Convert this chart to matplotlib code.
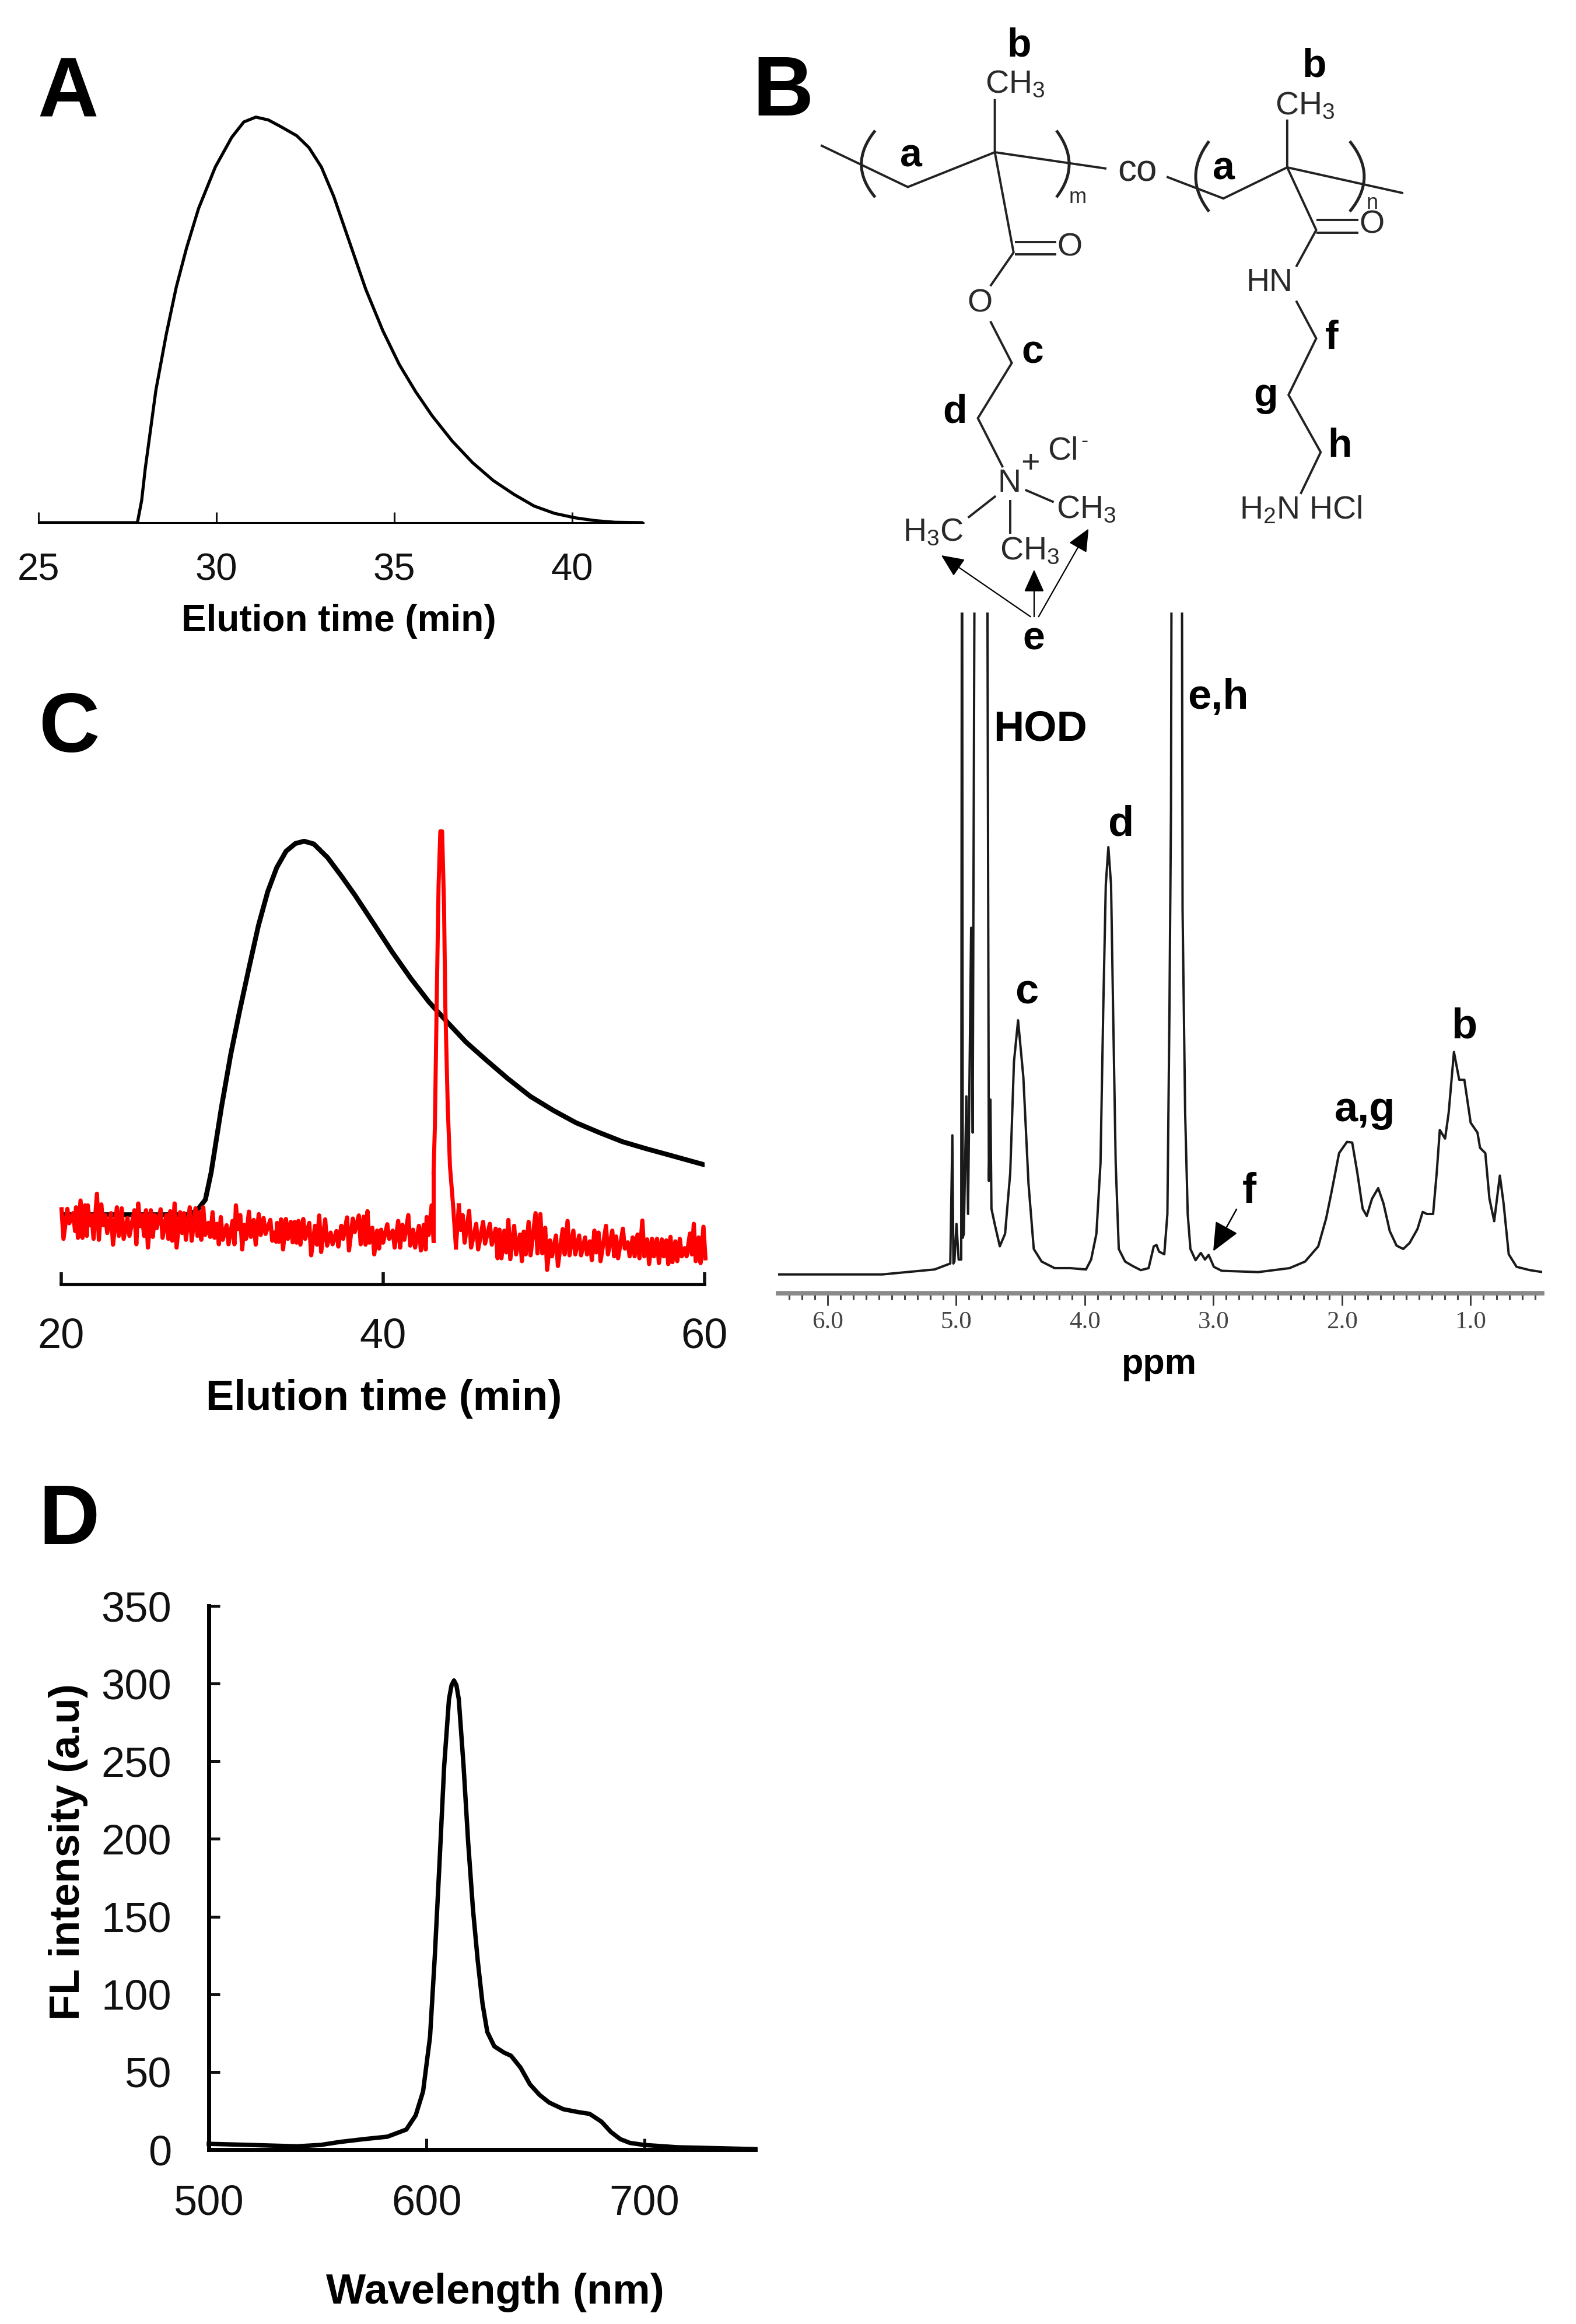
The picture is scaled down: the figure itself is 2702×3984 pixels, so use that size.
import numpy as np
import matplotlib
matplotlib.use('Agg')
import matplotlib.pyplot as plt
from matplotlib.path import Path
from matplotlib.patches import PathPatch

plt.rcParams['font.family'] = ['Liberation Sans', 'DejaVu Sans']
plt.rcParams['mathtext.default'] = 'regular'

# Panel A: elution profile
a_time = [25.0, 27.78, 27.9, 28.0, 28.3, 28.59, 28.87, 29.16, 29.5, 29.97, 30.43, 30.77, 31.11, 31.46, 31.8,
          32.26, 32.6, 32.95, 33.3, 33.76, 34.2, 34.68, 35.14, 35.6, 36.06, 36.63, 37.2, 37.78, 38.36, 38.93,
          39.5, 40.08, 40.65, 41.2, 42.0]
a_signal = [0, 0, 5.5, 13.3, 32.7, 46.4, 58.0, 67.7, 77.5, 87.7, 95.0, 98.8, 100.0, 99.3, 97.7,
            95.4, 92.5, 87.7, 80.4, 68.7, 57.5, 47.3, 39.0, 32.3, 26.4, 20.1, 14.8, 10.4, 7.0, 4.1,
            2.3, 1.2, 0.5, 0.1, 0]
a_ticks = [25, 30, 35, 40]

# Panel C: black trace
c_time = [20.0, 28.0, 28.47, 28.96, 29.32, 29.97, 30.54, 31.1, 31.7, 32.26, 32.84, 33.4, 33.98, 34.56, 35.1,
          35.7, 36.56, 37.4, 38.28, 39.43, 40.57, 41.72, 42.87, 44.0, 45.16, 46.3, 47.74, 49.17, 50.6, 52.0,
          53.47, 54.9, 56.33, 57.77, 60.0]
c_black = [15.4, 15.4, 16.5, 18.7, 24.7, 39.3, 50.8, 60.5, 70.3, 79.2, 86.7, 92.0, 95.6, 97.3, 97.8,
           97.2, 94.2, 90.2, 85.8, 79.6, 73.4, 67.6, 62.3, 57.9, 53.5, 49.9, 45.5, 41.5, 38.4, 35.7,
           33.5, 31.5, 30.0, 28.6, 26.4]

# Panel C: red trace, noisy baseline read as highs and lows either side of the peak
red_t_left = [20.02, 20.38, 20.74, 20.92, 21.20, 21.47, 21.65, 21.89, 22.22, 22.49, 22.74, 23.10, 23.46, 23.76,
              24.12, 24.55, 24.79, 25.03, 25.27, 25.57, 25.82, 26.18, 26.54, 26.78, 27.05, 27.39, 27.63, 27.99,
              28.35, 28.59, 28.83, 29.14, 29.41, 29.68, 29.92, 30.28, 30.65, 30.86, 31.13, 31.37, 31.67, 31.97,
              32.28, 32.58, 33.00, 33.24, 33.42, 33.67, 33.97, 34.27, 34.51, 34.75, 35.05, 35.42, 35.78, 36.04,
              36.41, 36.75, 37.11, 37.41, 37.77, 38.13, 38.50, 38.80, 39.04, 39.34, 39.64, 39.89, 40.27, 40.61,
              40.95, 41.21, 41.58, 41.88, 42.24, 42.54, 42.72, 43.03]
red_hi_left = [16.60, 16.68, 15.74, 17.03, 18.53, 17.46, 17.46, 15.31, 20.03, 17.67, 15.31, 15.74, 17.03, 16.81,
               14.67, 16.38, 17.88, 15.31, 16.38, 16.38, 15.31, 16.60, 15.31, 16.17, 17.88, 15.95, 15.74, 17.03,
               16.81, 15.95, 17.03, 13.59, 15.95, 13.38, 14.88, 13.08, 14.02, 17.46, 15.31, 13.17, 16.08, 14.24,
               15.53, 14.67, 14.24, 11.45, 13.59, 14.37, 14.45, 13.81, 13.81, 14.02, 14.45, 13.59, 12.95, 15.23,
               14.37, 11.45, 11.79, 12.95, 14.80, 14.54, 15.23, 14.97, 16.17, 12.52, 11.88, 12.09, 13.29, 11.88,
               14.02, 13.17, 15.31, 12.09, 12.95, 13.17, 14.88, 17.46]
red_lo_left = [10.08, 13.52, 11.80, 10.30, 10.30, 10.73, 13.09, 10.08, 9.87, 13.09, 11.37, 8.80, 10.73, 10.08,
               10.73, 8.88, 12.87, 10.73, 8.15, 10.51, 12.44, 10.30, 10.08, 9.66, 8.15, 11.37, 9.87, 9.66,
               10.73, 9.87, 10.94, 10.51, 10.30, 8.88, 9.87, 8.88, 8.88, 12.23, 7.73, 10.08, 10.51, 8.80,
               10.94, 11.16, 9.66, 9.44, 9.44, 7.73, 10.08, 9.31, 9.23, 8.80, 10.08, 6.44, 8.80, 7.17,
               8.58, 8.88, 8.37, 10.08, 7.51, 11.59, 8.88, 8.80, 9.23, 6.65, 7.94, 9.23, 10.08, 8.15,
               8.15, 9.87, 8.58, 8.15, 7.51, 7.73, 10.94, 9.66]
red_t_peak = [43.15, 43.23, 43.34, 43.46, 43.57, 43.68, 43.80, 43.88, 44.03, 44.17, 44.37, 44.54]
red_peak = [24.7, 34.8, 61.4, 88.0, 100.0, 100.0, 83.6, 61.4, 39.3, 26.0, 17.1, 8.15]
red_t_right = [44.72, 44.96, 45.36, 45.80, 46.23, 46.65, 47.01, 47.25, 47.55, 47.80, 48.16, 48.52, 48.76, 49.06,
               49.49, 49.79, 50.09, 50.39, 50.76, 51.18, 51.48, 51.84, 52.20, 52.57, 52.87, 53.15, 53.41, 53.87,
               54.26, 54.50, 54.92, 55.22, 55.53, 55.83, 56.13, 56.43, 56.73, 57.04, 57.34, 57.62, 57.88, 58.18,
               58.46, 58.76, 59.09, 59.33, 59.63, 59.93]
red_hi_right = [17.46, 15.31, 16.25, 13.38, 13.81, 13.38, 12.31, 12.09, 11.88, 14.24, 12.95, 11.02, 11.66, 13.81,
                15.74, 15.53, 12.52, 9.73, 10.81, 12.22, 14.02, 11.88, 10.81, 10.38, 9.52, 11.88, 11.45, 12.95,
                11.88, 10.59, 12.31, 9.30, 10.38, 11.02, 14.11, 9.95, 10.08, 10.08, 9.95, 9.73, 10.51, 9.52,
                10.08, 8.02, 11.24, 13.38, 10.38, 12.74]
red_lo_right = [12.02, 9.23, 8.15, 7.73, 9.01, 8.80, 5.79, 5.79, 7.08, 5.58, 6.65, 5.15, 6.65, 6.44,
                6.87, 6.87, 3.22, 6.22, 4.08, 6.65, 6.44, 6.65, 6.44, 6.65, 5.37, 7.08, 5.15, 6.65,
                6.22, 5.79, 7.94, 6.22, 6.22, 5.79, 6.22, 4.51, 6.22, 4.72, 6.22, 4.51, 4.94, 5.15,
                6.22, 6.22, 6.65, 5.15, 4.72, 5.79]
c_ticks = [20, 40, 60]

# Panel D: emission spectrum
d_wave = [500, 518.6, 540.4, 551.4, 560.1, 571, 582, 590.7, 595, 598.4, 601.6, 603.8, 606, 608.1, 610.3, 611.5,
          612.6, 613.7, 614.8, 617, 619.1, 621.3, 623.5, 625.7, 627.9, 631.1, 635.5, 638.8, 643.2, 647.5, 651.9,
          656.3, 662.8, 669.4, 674.9, 680.3, 684.7, 689, 693.4, 699.8, 715.1, 751]
d_intensity = [3.7, 3, 2.1, 3, 4.9, 6.7, 8.3, 12.9, 22, 37.4, 72.6, 124.7, 186, 247, 290, 299,
               302, 299, 290, 247, 198, 155, 121.7, 94, 75.7, 66.5, 62.5, 60.4, 52.7, 42, 35.2,
               30.3, 26, 24.2, 23, 18, 11.3, 6.7, 4.3, 3, 1.5, 0.3]
d_xticks = [500, 600, 700]
d_yticks = [0, 50, 100, 150, 200, 250, 300, 350]

# Panel B: 1H NMR spectrum, off-scale peaks are only known to pass the cut at 100
nmr_ppm = [6.394, 5.574, 5.168, 5.046, 5.030, 5.022, 5.014, 4.998, 4.981, 4.961, 4.955, 4.949, 4.941, 4.921,
           4.908, 4.884, 4.872, 4.852, 4.762, 4.746, 4.734, 4.726, 4.701, 4.661, 4.620, 4.580, 4.551, 4.519,
           4.478, 4.438, 4.397, 4.336, 4.235, 4.113, 3.991, 3.951, 3.910, 3.878, 3.857, 3.837, 3.817, 3.796,
           3.780, 3.760, 3.736, 3.687, 3.626, 3.565, 3.504, 3.464, 3.443, 3.423, 3.382, 3.358, 3.342, 3.330,
           3.322, 3.248, 3.240, 3.220, 3.200, 3.179, 3.139, 3.098, 3.066, 3.037, 2.997, 2.936, 2.652, 2.408,
           2.287, 2.185, 2.124, 2.084, 2.023, 1.962, 1.921, 1.881, 1.840, 1.808, 1.767, 1.719, 1.678, 1.629,
           1.576, 1.524, 1.475, 1.414, 1.373, 1.341, 1.292, 1.264, 1.240, 1.199, 1.171, 1.130, 1.089, 1.049,
           1.000, 0.947, 0.927, 0.886, 0.854, 0.817, 0.773, 0.744, 0.704, 0.643, 0.541, 0.440]
nmr_signal = [-0.15, -0.15, 0.6, 1.5, 20.9, 1.5, 1.8, 7.5, 2.1, 2.1, 140, 5.4, 6.0, 26.8,
              9.0, 52.3, 21.3, 140, 140, 14.0, 26.3, 9.8, 7.5, 4.1, 6.0, 15.2, 32.0, 38.3,
              29.7, 13.6, 3.7, 1.8, 0.8, 0.8, 0.6, 2.1, 6.0, 16.7, 39.7, 58.8, 64.5, 58.8,
              39.7, 16.7, 3.7, 1.8, 1.1, 0.5, 0.8, 4.1, 4.3, 3.3, 2.9, 9.0, 39.7, 70.3,
              140, 140, 55.0, 24.3, 9.0, 3.7, 2.0, 3.1, 2.1, 2.8, 1.0, 0.4, 0.2, 0.8,
              1.8, 4.1, 8.3, 12.1, 18.2, 19.9, 19.8, 15.2, 9.8, 8.7, 11.3, 12.9, 10.6, 6.4,
              4.2, 3.7, 4.6, 6.7, 9.3, 9.0, 9.0, 15.2, 21.7, 20.4, 24.3, 33.5, 29.3, 29.3,
              22.8, 21.3, 19.0, 18.2, 11.3, 7.9, 14.8, 10.6, 2.9, 1.0, 0.5, 0.2]
nmr_major = [6.0, 5.0, 4.0, 3.0, 2.0, 1.0]
nmr_major_labels = ['6.0', '5.0', '4.0', '3.0', '2.0', '1.0']
nmr_minor = [6.3, 6.2, 6.1, 5.9, 5.8, 5.7, 5.6, 5.5, 5.4, 5.3, 5.2, 5.1, 4.9, 4.8, 4.7, 4.6, 4.5, 4.4, 4.3, 4.2, 4.1,
             3.9, 3.8, 3.7, 3.6, 3.5, 3.4, 3.3, 3.2, 3.1, 2.9, 2.8, 2.7, 2.6, 2.5, 2.4, 2.3, 2.2, 2.1,
             1.9, 1.8, 1.7, 1.6, 1.5, 1.4, 1.3, 1.2, 1.1, 0.9, 0.8, 0.7, 0.6, 0.5]

# Chemical structure, bonds in the coordinates of the drawing
bonds = [
    [(140, 298), (335, 400), (530, 315), (780, 355)],
    [(530, 185), (530, 315), (572, 560), (520, 642)],
    [(575, 535), (668, 535)],
    [(575, 565), (668, 565)],
    [(520, 728), (568, 830), (492, 965), (548, 1085)],
    [(532, 1155), (470, 1208)],
    [(565, 1165), (565, 1248)],
    [(598, 1140), (662, 1170)],
    [(915, 375), (1042, 428), (1185, 352), (1445, 415)],
    [(1185, 235), (1185, 352), (1250, 505), (1205, 595)],
    [(1250, 480), (1345, 480)],
    [(1250, 512), (1345, 512)],
    [(1205, 678), (1250, 770), (1188, 908), (1260, 1048), (1215, 1150)],
]
brackets = [
    [(262, 262), (200, 345), (262, 425)],
    [(668, 262), (725, 345), (668, 425)],
    [(1010, 288), (950, 375), (1010, 460)],
    [(1325, 288), (1390, 375), (1325, 460)],
]
arrows = [
    [(610, 1450), (410, 1300)],
    [(618, 1450), (618, 1335)],
    [(628, 1450), (740, 1235)],
]
atom_labels = [
    ('CH$_3$', 575, 150), ('CH$_3$', 1225, 203),
    ('O', 698, 548), ('O', 1375, 492), ('O', 497, 685), ('HN', 1145, 635), ('N', 562, 1125), ('+', 610, 1078),
    ('Cl', 682, 1045), ('CH$_3$', 735, 1190), ('H$_3$C', 392, 1245), ('CH$_3$', 608, 1290),
    ('H$_2$N HCl', 1215, 1190),
]
small_labels = [('m', 716, 425), ('n', 1376, 440), ('-', 731, 1022)]
site_labels = [
    ('b', 585, 55), ('b', 1245, 105), ('a', 342, 325), ('a', 1043, 355), ('c', 615, 805), ('d', 440, 950),
    ('f', 1285, 770), ('g', 1137, 910), ('h', 1303, 1033), ('e', 617, 1505),
]
# Peak labels on the spectrum, in px of the figure
peak_labels = [('HOD', 1784, 1250), ('e,h', 2088, 1196), ('d', 1922, 1413), ('c', 1760, 1701),
               ('b', 2510, 1760), ('a,g', 2340, 1903), ('f', 2142, 2043)]
panel_letters = [('A', 64, 199), ('B', 1290, 198), ('C', 66, 1289), ('D', 66, 2647)]

W, H = 2702, 3984
fig = plt.figure(figsize=(W / 100, H / 100), dpi=100, facecolor='white')


def px_axes(left, right, bottom, top):
    ax = fig.add_axes([left / W, 1 - bottom / H, (right - left) / W, (bottom - top) / H])
    ax.patch.set_alpha(0)
    for s in ['top', 'right', 'left']:
        ax.spines[s].set_visible(False)
    return ax


# A
ax = px_axes(66, 1103, 896, 150)
ax.plot(a_time, a_signal, color='black', lw=3.8, solid_joinstyle='round')
ax.set_xlim(25, 42)
ax.set_ylim(0, 107.3)
ax.set_yticks([])
ax.set_xticks(a_ticks)
ax.spines['bottom'].set_linewidth(2.2)
ax.tick_params(axis='x', direction='in', length=13, width=2.2, pad=37, labelsize=47, colors='#111111')

# C
ax = px_axes(105, 1208, 2202, 1400)
ax.plot(c_time, c_black, color='black', lw=6, solid_capstyle='round', solid_joinstyle='round')
for t, hi, lo in [(red_t_left, red_hi_left, red_lo_left), (red_t_right, red_hi_right, red_lo_right)]:
    t = np.array(t)
    zig_t = np.ravel(np.column_stack([t, t + 0.12]))
    zig_y = np.ravel(np.column_stack([hi, lo]))
    ax.plot(zig_t, zig_y, color='#ff0000', lw=5.2, clip_on=False)
ax.plot(red_t_peak, red_peak, color='#ff0000', lw=5, clip_on=False)
# joins between the noise and the peak
ax.plot([red_t_left[-1] + 0.12, red_t_peak[0]], [red_lo_left[-1], red_peak[0]], color='#ff0000', lw=5)
ax.plot([red_t_peak[-1], red_t_right[0]], [red_peak[-1], red_hi_right[0]], color='#ff0000', lw=5)
ax.set_xlim(20, 60)
ax.set_ylim(0, (2202 - 1400) / 7.77)
ax.set_yticks([])
ax.set_xticks(c_ticks)
ax.spines['bottom'].set_linewidth(4)
ax.spines['bottom'].set_capstyle('projecting')
ax.tick_params(axis='x', direction='in', length=15, width=4, pad=41, labelsize=52, colors='#111111')

# D
ax = px_axes(358, 1295, 3685, 2753)
ax.plot(d_wave, d_intensity, color='black', lw=5.4, clip_on=False, solid_joinstyle='round')
ax.set_xlim(500, 751)
ax.set_ylim(0, 350)
ax.set_xticks(d_xticks)
ax.set_yticks(d_yticks)
ax.spines['left'].set_visible(True)
ax.spines['left'].set_linewidth(5)
ax.spines['bottom'].set_linewidth(5)
ax.tick_params(axis='both', direction='in', length=14, width=3.6, labelsize=52, colors='#111111')
ax.tick_params(axis='x', pad=43)
ax.tick_params(axis='y', pad=46)

# B spectrum
ax = px_axes(1334, 2644, 2217, 1050)
ax.plot(nmr_ppm, nmr_signal, color='#1a1a1a', lw=2.9, solid_joinstyle='round')
ax.set_xlim(6.385, 0.444)
ax.set_ylim(-3.0, 100)
ax.set_yticks([])
ax.set_xticks(nmr_major)
ax.set_xticklabels(nmr_major_labels)
ax.set_xticks(nmr_minor, minor=True)
ax.spines['bottom'].set_linewidth(5.5)
ax.spines['bottom'].set_color('#8a8a8a')
ax.tick_params(axis='x', which='major', direction='out', length=15, width=2, pad=7, color='#333333')
ax.tick_params(axis='x', which='minor', direction='out', length=8, width=2.2, color='#444444')
for lab in ax.get_xticklabels():
    lab.set_family('Liberation Serif')
    lab.set_fontsize(31)
    lab.set_color('#444444')

# Overlay in px for panel letters, axis titles and the structure
over = fig.add_axes([0, 0, 1, 1])
over.set_xlim(0, W)
over.set_ylim(H, 0)
over.axis('off')
over.patch.set_alpha(0)


def sx(x):
    return 1300 + x / 1.3067


def sy(y):
    return 40 + y / 1.4255


for seg in bonds:
    over.plot([sx(p[0]) for p in seg], [sy(p[1]) for p in seg], color='#222222', lw=2.8,
              solid_joinstyle='miter', solid_capstyle='butt')
for b in brackets:
    verts = [(sx(p[0]), sy(p[1])) for p in b]
    over.add_patch(PathPatch(Path(verts, [Path.MOVETO, Path.CURVE3, Path.CURVE3]), fill=False, lw=3.6,
                             edgecolor='#222222'))
for tail, head in arrows:
    over.annotate('', xy=(sx(head[0]), sy(head[1])), xytext=(sx(tail[0]), sy(tail[1])),
                  arrowprops=dict(arrowstyle='-|>,head_length=0.8,head_width=0.36', mutation_scale=30, lw=1.6,
                                  color='black', shrinkA=0, shrinkB=0))
for txt, x, y in atom_labels:
    over.text(sx(x), sy(y), txt, ha='center', va='center', fontsize=40, color='#2a2a2a')
over.text(sx(850), sy(362), 'co', ha='center', va='center', fontsize=46, color='#2a2a2a')
for txt, x, y in small_labels:
    over.text(sx(x), sy(y), txt, ha='center', va='center', fontsize=26, color='#2a2a2a')
for txt, x, y in site_labels:
    over.text(sx(x), sy(y), txt, ha='center', va='center', fontsize=49, fontweight='bold', color='black')
for txt, x, y in peak_labels:
    over.text(x, y, txt, ha='center', va='center', fontsize=52, fontweight='bold', color='black')
over.annotate('', xy=(2080, 2145), xytext=(2120, 2073),
              arrowprops=dict(arrowstyle='-|>,head_length=0.9,head_width=0.4', mutation_scale=34, lw=1.8,
                              color='black', shrinkA=0, shrinkB=0))
for txt, x, y in panel_letters:
    over.text(x, y, txt, ha='left', va='baseline', fontsize=104, fontweight='bold', color='black')

over.text(581, 1065, 'Elution time (min)', ha='center', va='center', fontsize=46, fontweight='bold')
over.text(658, 2398, 'Elution time (min)', ha='center', va='center', fontsize=52, fontweight='bold')
over.text(849, 3930, 'Wavelength (nm)', ha='center', va='center', fontsize=52, fontweight='bold')
over.text(117, 3175, 'FL intensity (a.u)', ha='center', va='center', rotation=90, fontsize=52, fontweight='bold')
over.text(1987, 2339, 'ppm', ha='center', va='center', fontsize=44, fontweight='bold')

fig.savefig('out.png', dpi=100, facecolor='white')
